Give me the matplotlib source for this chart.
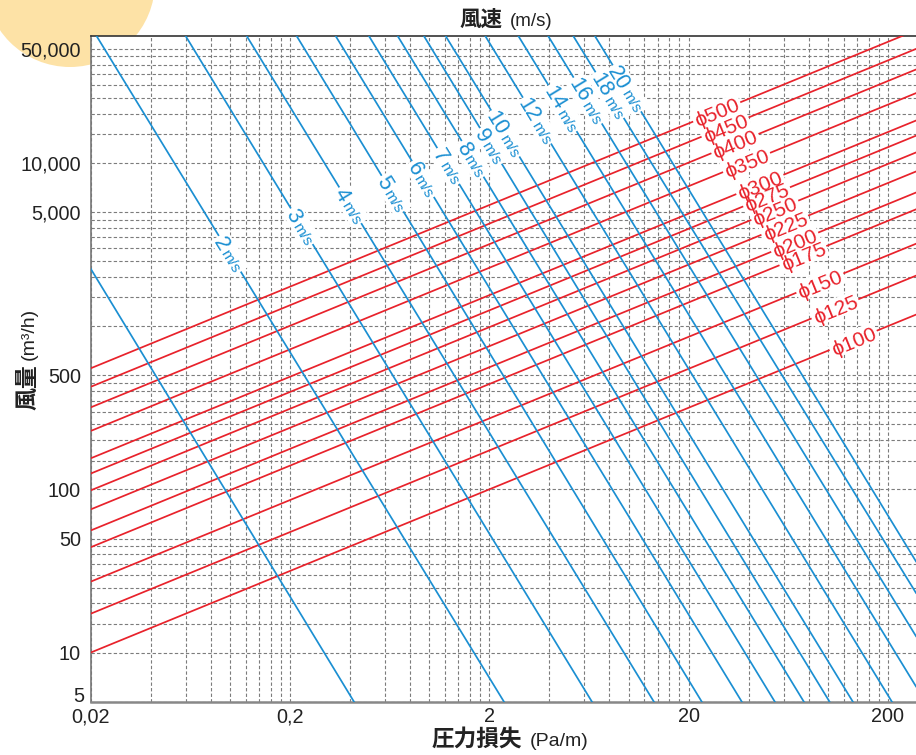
import numpy as np
import matplotlib
matplotlib.use("Agg")
import matplotlib.pyplot as plt
from matplotlib.patches import Circle, Rectangle
from matplotlib.transforms import IdentityTransform, Affine2D
from matplotlib.font_manager import FontProperties
from matplotlib.ticker import FixedLocator, FixedFormatter, NullFormatter

# ---------------- data ----------------
x_tick_values = [0.02, 0.2, 2, 20, 200]
x_tick_labels = ["0,02", "0,2", "2", "20", "200"]
y_tick_values = [5, 10, 50, 100, 500, 5000, 10000, 50000]
y_tick_labels = ["", "10", "50", "100", "500", "5,000", "10,000", "50,000"]

# duct diameter lines (red): flow at 0.02 Pa/m and at 277 Pa/m
duct_diameters = [100, 125, 150, 175, 200, 225, 250, 275, 300, 350, 400, 450, 500]
duct_dp_start = 0.02
duct_q_start = [10, 17.3, 27.2, 44.2, 56.0, 75.4, 98.6, 125, 155, 228, 318, 425, 552]
duct_dp_end = 277
duct_q_end = [1177, 2040, 3200, 5200, 6590, 8870, 11600, 14700, 18200, 26800, 37400, 50000, 65000]

# air velocity lines (blue): two points per line (Pa/m, m3/h)
velocities = [1, 2, 3, 4, 5, 6, 7, 8, 9, 10, 12, 14, 16, 18, 20]
vel_dp_start = [0.02, 0.0214, 0.0599, 0.1213, 0.216, 0.339, 0.498, 0.694, 0.940,
                1.208, 1.91, 2.80, 3.95, 5.28, 6.78]
vel_q_start = [2250, 60000, 60000, 60000, 60000, 60000, 60000, 60000, 60000,
               60000, 60000, 60000, 60000, 60000, 60000]
vel_dp_end = [0.419, 2.37, 6.55, 13.4, 23.3, 37.0, 54.2, 75.8, 102, 133.5, 209.6,
              277, 277, 277, 277]
vel_q_end = [5, 5, 5, 5, 5, 5, 5, 5, 5, 5, 5, 6.2, 12.6, 23.2, 36.2]
vel_labeled = [False] + [True] * 14

# label placement along the lines (Pa/m)
vel_label_dp = [None, 0.0960, 0.2204, 0.386, 0.629, 0.894, 1.197, 1.587, 1.96,
                2.40, 3.46, 4.65, 6.22, 8.01, 9.79]
duct_label_dp = [134.0, 108.6, 91.2, 75.0, 68.2, 60.8, 54.2, 49.3, 45.6, 39.1,
                 34.2, 30.5, 27.7]

# ---------------- style ----------------
RED = "#e8222b"
BLUE = "#1b8fd2"
LATIN = ["Liberation Sans", "DejaVu Sans", "Noto Sans CJK JP"]
CJK = ["Noto Sans CJK JP", "Liberation Sans", "DejaVu Sans"]
plt.rcParams["font.family"] = LATIN

W, H = 916, 755
DPI = 100
fig = plt.figure(figsize=(W / DPI, H / DPI), dpi=DPI)
fig.patch.set_facecolor("white")

# decorative circle at top-left
circ = Circle((70, H + 18), 85, transform=IdentityTransform(),
              facecolor="#fde2a6", edgecolor="none", zorder=-1)
fig.add_artist(circ)

left_px, right_px, top_px, bottom_px = 90.7, 916, 36, 701.7
ax = fig.add_axes([left_px / W, (H - bottom_px) / H,
                   (right_px - left_px) / W, (bottom_px - top_px) / H])
ax.set_facecolor("white")
ax.set_xscale("log")
ax.set_yscale("log")
ax.set_xlim(0.02, 277)
ax.set_ylim(5, 60000)

# ticks / grid
ax.xaxis.set_major_locator(FixedLocator(x_tick_values))
ax.xaxis.set_major_formatter(FixedFormatter(x_tick_labels))
ax.yaxis.set_major_locator(FixedLocator(y_tick_values))
ax.yaxis.set_major_formatter(FixedFormatter(y_tick_labels))
xgrid = [0.02 * k * 10 ** n for n in range(5) for k in range(1, 10)]
xgrid = [v for v in xgrid if v < 277]
ygrid = [m * 10 ** n for n in range(0, 5) for m in (1, 1.5, 2, 2.5, 3, 3.5, 4, 4.5, 5)]
ygrid = [v for v in ygrid if 5 <= v <= 60000]
ax.xaxis.set_minor_locator(FixedLocator(xgrid))
ax.yaxis.set_minor_locator(FixedLocator(ygrid))
ax.xaxis.set_minor_formatter(NullFormatter())
ax.yaxis.set_minor_formatter(NullFormatter())
ax.xaxis.remove_overlapping_locs = False
ax.yaxis.remove_overlapping_locs = False
ax.grid(False, which="major")
ax.grid(True, which="minor", color="#7c7c7c", linestyle=(0, (3, 2)), linewidth=0.8)
ax.tick_params(which="both", length=0)
ax.tick_params(axis="x", pad=4, labelsize=14.3, labelcolor="#222222")
ax.tick_params(axis="y", pad=7, labelsize=14.3, labelcolor="#222222")
ax.set_axisbelow(True)

ax.spines["right"].set_visible(False)
ax.spines["top"].set_color("#333333")
ax.spines["top"].set_linewidth(1.2)
ax.spines["left"].set_color("#777777")
ax.spines["left"].set_linewidth(1.2)
ax.spines["bottom"].set_color("#888888")
ax.spines["bottom"].set_linewidth(1.8)

# the "5" label sits a little higher in the reference
ax.annotate("5", xy=(0, 5), xycoords=("axes fraction", "data"),
            xytext=(-5.0, 3.5), textcoords="offset points",
            ha="right", va="center", fontsize=14.3, color="#222222")

renderer = fig.canvas.get_renderer()


def text_width(s, size):
    prop = FontProperties(family=LATIN, size=size)
    w, h, d = renderer.get_text_width_height_descent(s, prop, ismath=False)
    return w


def on_line(xq, x1, y1, x2, y2):
    lx = np.log10([x1, x2])
    ly = np.log10([y1, y2])
    return 10 ** np.interp(np.log10(xq), lx, ly)


def disp_angle(x1, y1, x2, y2):
    p = ax.transData.transform([(x1, y1), (x2, y2)])
    return np.degrees(np.arctan2(p[1, 1] - p[0, 1], p[1, 0] - p[0, 0]))


def white_box(cx, cy, w, h, ang, z):
    tr = Affine2D().rotate_deg(ang).translate(cx, cy)
    r = Rectangle((-w / 2, -h / 2), w, h, transform=tr, facecolor="white",
                  edgecolor="none", zorder=z)
    ax.add_artist(r)
    r.set_clip_on(False)


# red duct lines
RED_FS = 15
for d, q1, q2, lx in zip(duct_diameters, duct_q_start, duct_q_end, duct_label_dp):
    ax.plot([duct_dp_start, duct_dp_end], [q1, q2], color=RED, lw=1.25, zorder=3)
    ly = on_line(lx, duct_dp_start, q1, duct_dp_end, q2)
    ang = disp_angle(duct_dp_start, q1, duct_dp_end, q2)
    th = np.radians(ang)
    up = np.array([-np.sin(th), np.cos(th)])
    c = ax.transData.transform((lx, ly))
    s = "ϕ%d" % d
    w = text_width(s, RED_FS)
    cap = 0.716 * RED_FS * DPI / 72
    white_box(c[0], c[1], w + 4, cap + 5, ang, 5)
    b = c - up * cap / 2
    ax.text(b[0], b[1], s, transform=IdentityTransform(), rotation=ang,
            rotation_mode="anchor", ha="center", va="baseline",
            fontsize=RED_FS, color=RED, zorder=6)

# blue velocity lines
NUM_FS, UNIT_FS = 15.5, 11
for v, x1, q1, x2, q2, lab, lx in zip(velocities, vel_dp_start, vel_q_start,
                                      vel_dp_end, vel_q_end, vel_labeled, vel_label_dp):
    ax.plot([x1, x2], [q1, q2], color=BLUE, lw=1.25, zorder=4)
    if not lab:
        continue
    ly = on_line(lx, x1, q1, x2, q2)
    ang = disp_angle(x1, q1, x2, q2)
    th = np.radians(ang)
    dvec = np.array([np.cos(th), np.sin(th)])
    up = np.array([-np.sin(th), np.cos(th)])
    j = ax.transData.transform((lx, ly))
    wn = text_width(str(v), NUM_FS)
    wu = text_width("m/s", UNIT_FS)
    cap = 0.716 * NUM_FS * DPI / 72
    start = j - dvec * (0.5 + wn + 2)
    end = j + dvec * (1.0 + wu + 2)
    mid = (start + end) / 2
    white_box(mid[0], mid[1], wn + wu + 5.5, cap + 5, ang, 5)
    b = j - up * cap / 2
    pn = b - dvec * 0.5
    pm = b + dvec * 1.0
    ax.text(pn[0], pn[1], str(v), transform=IdentityTransform(), rotation=ang,
            rotation_mode="anchor", ha="right", va="baseline",
            fontsize=NUM_FS, color=BLUE, zorder=7)
    ax.text(pm[0], pm[1], "m/s", transform=IdentityTransform(), rotation=ang,
            rotation_mode="anchor", ha="left", va="baseline",
            fontsize=UNIT_FS, color=BLUE, zorder=7)

# axis titles
yb_top = (H - 26) / H
fig.text(502 / W, yb_top, "風速", family=CJK, fontsize=15.5, fontweight="bold",
         ha="right", va="baseline", color="#222222")
fig.text(510 / W, yb_top, "(m/s)", family=LATIN, fontsize=13.5,
         ha="left", va="baseline", color="#222222")

yb_bot = (H - 746) / H
fig.text(522 / W, yb_bot, "圧力損失", family=CJK, fontsize=16.3, fontweight="bold",
         ha="right", va="baseline", color="#222222")
fig.text(530 / W, yb_bot, "(Pa/m)", family=LATIN, fontsize=14,
         ha="left", va="baseline", color="#222222")

xb_left = 34 / W
fig.text(xb_left, (H - 364) / H, "風量", family=CJK, fontsize=16.5, fontweight="bold",
         rotation=90, rotation_mode="anchor", ha="right", va="baseline", color="#222222")
fig.text(xb_left, (H - 360) / H, "(m³/h)", family=LATIN, fontsize=14,
         rotation=90, rotation_mode="anchor", ha="left", va="baseline", color="#222222")

fig.savefig("out.png", dpi=DPI, facecolor="white")
